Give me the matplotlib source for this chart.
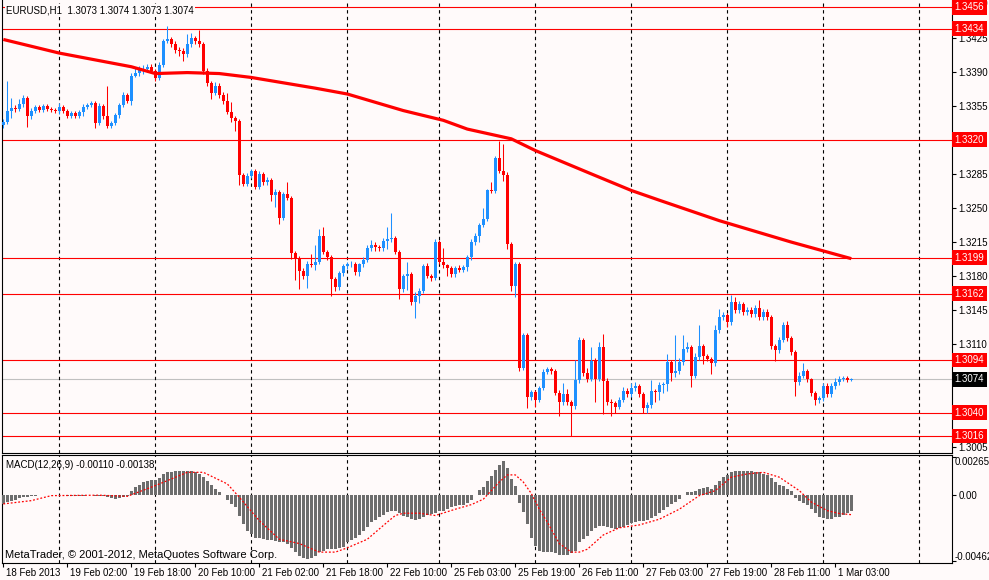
import numpy as np
import matplotlib.pyplot as plt
import matplotlib.transforms as mtransforms

# === DATOS (EURUSD H1) ===
open_first = 1.3335
closes = [
    1.3338, 1.3350, 1.3353, 1.3352, 1.3357, 1.3363, 1.3344, 1.3350, 1.3354, 1.3351,
    1.3355, 1.3352, 1.3351, 1.3350, 1.3354, 1.3350, 1.3344, 1.3348, 1.3344, 1.3349,
    1.3354, 1.3356, 1.3358, 1.3337, 1.3355, 1.3344, 1.3334, 1.3337, 1.3345, 1.3356,
    1.3366, 1.3360, 1.3386, 1.3389, 1.3392, 1.3393, 1.3395, 1.3391, 1.3383, 1.3397,
    1.3421, 1.3423, 1.3418, 1.3412, 1.3411, 1.3408, 1.3418, 1.3424, 1.3421, 1.3418,
    1.3391, 1.3378, 1.3368, 1.3375, 1.3366, 1.3360, 1.3349, 1.3342, 1.3339, 1.3284,
    1.3275, 1.3283, 1.3288, 1.3272, 1.3285, 1.3277, 1.3279, 1.3263, 1.3266, 1.3240,
    1.3264, 1.3260, 1.3204, 1.3199, 1.3185, 1.3180, 1.3193, 1.3191, 1.3195, 1.3221,
    1.3205, 1.3200, 1.3177, 1.3169, 1.3183, 1.3190, 1.3192, 1.3193, 1.3184, 1.3192,
    1.3197, 1.3209, 1.3212, 1.3210, 1.3209, 1.3216, 1.3218, 1.3219, 1.3205, 1.3167,
    1.3180, 1.3182, 1.3154, 1.3160, 1.3165, 1.3190, 1.3180, 1.3178, 1.3215, 1.3195,
    1.3191, 1.3188, 1.3182, 1.3188, 1.3186, 1.3189, 1.3200, 1.3215, 1.3221, 1.3233,
    1.3239, 1.3268, 1.3267, 1.3301, 1.3288, 1.3284, 1.3213, 1.3170, 1.3192, 1.3086,
    1.3120, 1.3056, 1.3061, 1.3053, 1.3065, 1.3082, 1.3085, 1.3083, 1.3060, 1.3051,
    1.3059, 1.3051, 1.3047, 1.3073, 1.3115, 1.3081, 1.3074, 1.3093, 1.3074, 1.3107,
    1.3072, 1.3051, 1.3050, 1.3046, 1.3053, 1.3062, 1.3059, 1.3065, 1.3067, 1.3059,
    1.3045, 1.3048, 1.3062, 1.3061, 1.3068, 1.3069, 1.3092, 1.3081, 1.3083, 1.3092,
    1.3105, 1.3107, 1.3078, 1.3097, 1.3108, 1.3098, 1.3095, 1.3091, 1.3125, 1.3138,
    1.3140, 1.3133, 1.3154, 1.3145, 1.3151, 1.3143, 1.3145, 1.3141, 1.3147, 1.3138,
    1.3143, 1.3138, 1.3108, 1.3104, 1.3115, 1.3130, 1.3117, 1.3102, 1.3071, 1.3078,
    1.3083, 1.3074, 1.3060, 1.3053, 1.3055, 1.3067, 1.3059, 1.3067, 1.3071, 1.3074,
    1.3076, 1.3073, 1.3074,
]
# mechas superior / inferior en pips
wick_up = [
    3, 30, 10, 3, 5, 3, 2, 3, 2, 2,
    2, 2, 2, 2, 4, 2, 2, 2, 2, 2,
    3, 2, 2, 2, 3, 2, 31, 2, 2, 2,
    3, 2, 3, 5, 4, 4, 3, 3, 2, 3,
    2, 14, 3, 3, 3, 3, 11, 6, 3, 12,
    2, 3, 2, 4, 3, 3, 8, 10, 2, 2,
    2, 3, 2, 2, 3, 2, 3, 2, 3, 2,
    2, 13, 2, 2, 2, 3, 3, 10, 17, 7,
    10, 2, 2, 2, 2, 3, 3, 3, 2, 2,
    3, 3, 5, 3, 2, 3, 13, 26, 2, 2,
    2, 13, 2, 4, 3, 3, 4, 2, 3, 2,
    14, 2, 2, 2, 3, 2, 2, 3, 3, 2,
    11, 2, 9, 2, 18, 28, 3, 2, 3, 3,
    2, 2, 2, 2, 2, 3, 2, 2, 2, 3,
    11, 5, 2, 21, 3, 2, 5, 14, 3, 5,
    14, 3, 3, 2, 3, 4, 3, 5, 4, 2,
    2, 3, 11, 2, 3, 2, 8, 2, 37, 4,
    15, 5, 2, 4, 22, 2, 2, 2, 5, 8,
    3, 2, 7, 5, 4, 3, 3, 3, 3, 9,
    3, 3, 2, 2, 3, 3, 4, 2, 2, 4,
    8, 2, 2, 2, 2, 3, 3, 3, 4, 4,
    2, 2, 1,
]
wick_down = [
    3, 2, 8, 3, 2, 3, 11, 3, 2, 2,
    2, 2, 2, 2, 4, 2, 2, 2, 2, 2,
    5, 2, 2, 5, 2, 3, 2, 2, 2, 3,
    2, 2, 4, 2, 3, 4, 3, 2, 3, 2,
    2, 2, 3, 3, 5, 7, 3, 3, 3, 3,
    3, 3, 6, 2, 3, 3, 3, 4, 10, 10,
    2, 2, 2, 2, 2, 3, 3, 6, 12, 6,
    2, 2, 6, 23, 18, 3, 12, 2, 5, 3,
    2, 3, 17, 4, 3, 3, 3, 3, 3, 4,
    3, 2, 3, 4, 3, 3, 8, 3, 2, 10,
    3, 14, 4, 17, 8, 2, 2, 3, 2, 2,
    3, 8, 3, 3, 2, 2, 4, 3, 3, 6,
    2, 2, 2, 2, 2, 6, 5, 5, 11, 3,
    2, 11, 3, 7, 2, 2, 2, 3, 2, 15,
    3, 3, 31, 3, 3, 3, 3, 2, 23, 2,
    33, 3, 14, 6, 2, 2, 3, 3, 3, 3,
    5, 5, 3, 10, 8, 8, 7, 9, 4, 3,
    3, 3, 12, 3, 3, 8, 2, 11, 3, 3,
    3, 5, 3, 3, 3, 3, 3, 3, 3, 3,
    3, 3, 3, 11, 3, 3, 4, 3, 14, 3,
    3, 3, 3, 5, 3, 3, 3, 3, 3, 3,
    2, 2, 1,
]

ma_bars = [0, 14, 32, 38, 46, 54, 62, 78, 86, 100, 110, 116, 127, 133, 147, 157, 164, 179, 197, 212]
ma_vals = [1.3423, 1.3409, 1.3395, 1.3388, 1.3389, 1.3388, 1.3384, 1.3373, 1.3367, 1.3350,
           1.3340, 1.3331, 1.3321, 1.3309, 1.3285, 1.3268, 1.3258, 1.3237, 1.3215, 1.3198]

# niveles horizontales
levels = [1.3456, 1.3434, 1.3320, 1.3199, 1.3162, 1.3094, 1.3040, 1.3016]
bid = 1.3074
price_ticks = [1.3460, 1.3425, 1.3390, 1.3355, 1.3285, 1.3250, 1.3215,
               1.3180, 1.3145, 1.3110, 1.3005]

# MACD(12,26,9)
macd_hist = [
    -0.00063, -0.00051, -0.00040, -0.00033, -0.00023, -0.00016, -0.00012, -0.00008, -0.00005, -0.00003,
    -0.00002, 0.00002, 0.00002, 0.00001, 0.00000, -0.00002, -0.00005, -0.00008, -0.00010, -0.00008,
    -0.00006, -0.00004, -0.00002, -0.00008, -0.00006, -0.00010, -0.00018, -0.00025, -0.00030, -0.00022,
    -0.00012, -0.00005, 0.00030, 0.00054, 0.00070, 0.00089, 0.00100, 0.00105, 0.00105, 0.00119,
    0.00147, 0.00158, 0.00163, 0.00170, 0.00170, 0.00170, 0.00170, 0.00165, 0.00163, 0.00147,
    0.00128, 0.00100, 0.00070, 0.00042, 0.00023, 0.00000, -0.00035, -0.00063, -0.00086, -0.00150,
    -0.00200, -0.00250, -0.00270, -0.00300, -0.00303, -0.00307, -0.00312, -0.00314, -0.00320, -0.00330,
    -0.00330, -0.00340, -0.00370, -0.00400, -0.00424, -0.00440, -0.00447, -0.00440, -0.00424, -0.00400,
    -0.00390, -0.00378, -0.00378, -0.00378, -0.00370, -0.00361, -0.00330, -0.00314, -0.00300, -0.00277,
    -0.00254, -0.00221, -0.00191, -0.00175, -0.00151, -0.00137, -0.00121, -0.00110, -0.00110, -0.00128,
    -0.00144, -0.00156, -0.00168, -0.00175, -0.00168, -0.00151, -0.00137, -0.00133, -0.00128, -0.00114,
    -0.00110, -0.00098, -0.00082, -0.00075, -0.00070, -0.00068, -0.00056, -0.00033, 0.00000, 0.00035,
    0.00058, 0.00100, 0.00135, 0.00177, 0.00210, 0.00235, 0.00190, 0.00110, 0.00065, -0.00058,
    -0.00120, -0.00200, -0.00300, -0.00360, -0.00390, -0.00400, -0.00400, -0.00400, -0.00408, -0.00420,
    -0.00420, -0.00420, -0.00408, -0.00390, -0.00330, -0.00307, -0.00284, -0.00254, -0.00230, -0.00214,
    -0.00214, -0.00221, -0.00230, -0.00237, -0.00230, -0.00221, -0.00207, -0.00198, -0.00191, -0.00179,
    -0.00179, -0.00175, -0.00160, -0.00144, -0.00126, -0.00103, -0.00082, -0.00063, -0.00051, -0.00028,
    0.00000, 0.00023, 0.00023, 0.00030, 0.00042, 0.00049, 0.00054, 0.00042, 0.00072, 0.00100,
    0.00124, 0.00140, 0.00163, 0.00165, 0.00170, 0.00170, 0.00170, 0.00165, 0.00163, 0.00158,
    0.00147, 0.00140, 0.00117, 0.00089, 0.00070, 0.00061, 0.00042, 0.00026, -0.00021, -0.00044,
    -0.00058, -0.00070, -0.00098, -0.00128, -0.00151, -0.00160, -0.00170, -0.00170, -0.00151, -0.00151,
    -0.00137, -0.00128, -0.00110,
]
signal_bars = [0, 7, 12, 24, 31, 38, 46, 50, 56, 59, 64, 69, 74, 79, 83, 86, 91, 96, 98, 100,
               104, 108, 113, 117, 120, 122, 124, 126, 128, 130, 132, 134, 136, 139, 142, 144, 146,
               150, 154, 159, 164, 169, 174, 178, 182, 186, 190, 194, 199, 202, 206, 209, 212]
signal_vals = [-0.00063, -0.00040, -0.00005, -0.00002, -0.00010, 0.00065, 0.00158, 0.00158, 0.00077,
               -0.00016, -0.00180, -0.00310, -0.00340, -0.00400, -0.00400, -0.00370, -0.00310, -0.00190,
               -0.00144, -0.00128, -0.00128, -0.00144, -0.00100, -0.00068, -0.00030, 0.00030, 0.00090,
               0.00140, 0.00140, 0.00090, 0.00010, -0.00100, -0.00190, -0.00340, -0.00400, -0.00400,
               -0.00380, -0.00280, -0.00230, -0.00210, -0.00170, -0.00100, -0.00005, 0.00030, 0.00124,
               0.00147, 0.00158, 0.00124, 0.00030, -0.00050, -0.00110, -0.00130, -0.00138]

separators = [14, 38, 62, 86, 109, 133, 157, 181, 205, 229]
xtick_bars = [0, 16, 32, 48, 64, 80, 96, 112, 128, 144, 160, 176, 192, 208]
xtick_labels = ["18 Feb 2013", "19 Feb 02:00", "19 Feb 18:00", "20 Feb 10:00", "21 Feb 02:00",
                "21 Feb 18:00", "22 Feb 10:00", "25 Feb 03:00", "25 Feb 19:00", "26 Feb 11:00",
                "27 Feb 03:00", "27 Feb 19:00", "28 Feb 11:00", "1 Mar 03:00"]

# === ESTILO ===
BG = '#fffafa'
UP = '#1e90ff'
DN = '#ff0000'
plt.rcParams['font.family'] = ['Liberation Sans', 'DejaVu Sans']
plt.rcParams['font.size'] = 7

W, H = 989, 580
fig = plt.figure(figsize=(W / 100, H / 100), dpi=100, facecolor=BG)
ax = fig.add_axes([2 / W, (H - 453.3) / H, 949.7 / W, 453.3 / H], facecolor=BG)
ax2 = fig.add_axes([2 / W, (H - 562.7) / H, 949.7 / W, 107.4 / H], facecolor=BG)

x0, x1 = (2 - 3.3) / 4, (951.7 - 3.3) / 4

# === VELAS ===
c = np.array(closes)
o = np.concatenate([[open_first], c[:-1]])
hi = np.maximum(o, c) + np.array(wick_up) * 1e-4
lo = np.minimum(o, c) - np.array(wick_down) * 1e-4
idx = np.arange(len(c))
col = [UP if cc >= oo else DN for oo, cc in zip(o, c)]
ax.vlines(idx, lo, hi, colors=col, linewidth=0.75, zorder=3)
body_h = np.maximum(np.abs(c - o), 0.00008)
body_b = np.minimum(o, c) - (body_h - np.abs(c - o)) / 2
ax.bar(idx, body_h, bottom=body_b, width=0.72, color=col, linewidth=0, zorder=4)

ax.plot(ma_bars, ma_vals, color='red', linewidth=2.3, zorder=5, solid_capstyle='butt')

for lv in levels:
    ax.axhline(lv, color='red', linewidth=0.8, zorder=2)
ax.axhline(bid, color='#c0c0c0', linewidth=0.8, zorder=1)

for s in separators:
    ax.axvline(s, color='black', linewidth=0.8, linestyle=(0, (3, 3)), zorder=1)
    ax2.axvline(s, color='black', linewidth=0.8, linestyle=(0, (3, 3)), zorder=1)

ax.set_xlim(x0, x1)
ax.set_ylim(1.29982, 1.34635)
ax.set_xticks([])
ax.yaxis.tick_right()
ax.set_yticks(price_ticks)
ax.set_yticklabels([f'{t:.4f}' for t in price_ticks])
ax.tick_params(axis='y', direction='out', length=3, width=0.8, pad=2, labelsize=7)
ax.spines['top'].set_visible(False)
for sp in ['left', 'right', 'bottom']:
    ax.spines[sp].set_linewidth(0.8)

trans = mtransforms.blended_transform_factory(ax.transAxes, ax.transData)
for lv in levels:
    ax.text(1.0 + 3 / 949.7, lv, f'{lv:.4f}', transform=trans, color='white', va='center', ha='left',
            fontsize=7, zorder=10, clip_on=False,
            bbox=dict(boxstyle='square,pad=0.25', facecolor='red', edgecolor='none'))
ax.text(1.0 + 3 / 949.7, bid, f'{bid:.4f}', transform=trans, color='white', va='center', ha='left',
        fontsize=7, zorder=10, clip_on=False,
        bbox=dict(boxstyle='square,pad=0.25', facecolor='black', edgecolor='none'))

# === MACD ===
ax2.bar(idx, macd_hist, width=0.72, color='#6d6d6d', linewidth=0, zorder=3)
ax2.plot(signal_bars, signal_vals, color='red', linewidth=0.9, linestyle=(0, (1.5, 1.5)), zorder=4)
ax2.set_xlim(x0, x1)
ax2.set_ylim(-0.00474, 0.00277)
ax2.yaxis.tick_right()
ax2.set_yticks([-0.00462, 0.0, 0.00265])
ax2.set_yticklabels(['', '0.00', ''])
ax2.tick_params(axis='y', direction='out', length=3, width=0.8, pad=2, labelsize=7)
ax2.set_xticks(xtick_bars)
ax2.set_xticklabels([])
ax2.tick_params(axis='x', direction='out', length=3, width=0.8)
for sp in ax2.spines.values():
    sp.set_linewidth(0.8)
ax2.text(1.0 + 3 / 949.7, 0.935, '0.00265', transform=ax2.transAxes, va='center', ha='left', fontsize=7)
ax2.text(1.0 + 3 / 949.7, 0.053, '-0.00462', transform=ax2.transAxes, va='center', ha='left', fontsize=7)

xtr = ax2.get_xaxis_transform()
for b, lab in zip(xtick_bars, xtick_labels):
    ax2.text(b + 0.7, -0.093, lab, transform=xtr, va='center', ha='left', fontsize=7, clip_on=False)

# === TEXTOS ===
fig.text(6 / W, 1 - 10.5 / H, 'EURUSD,H1  1.3073 1.3074 1.3073 1.3074', va='center', ha='left',
         fontsize=7, bbox=dict(boxstyle='square,pad=0.15', facecolor=BG, edgecolor='none'))
fig.text(6 / W, 1 - 465 / H, 'MACD(12,26,9) -0.00110 -0.00138', va='center', ha='left', fontsize=7)
fig.text(5 / W, 1 - 555 / H, 'MetaTrader, © 2001-2012, MetaQuotes Software Corp.', va='center',
         ha='left', fontsize=8)

fig.savefig('out.png', dpi=100, facecolor=BG)
